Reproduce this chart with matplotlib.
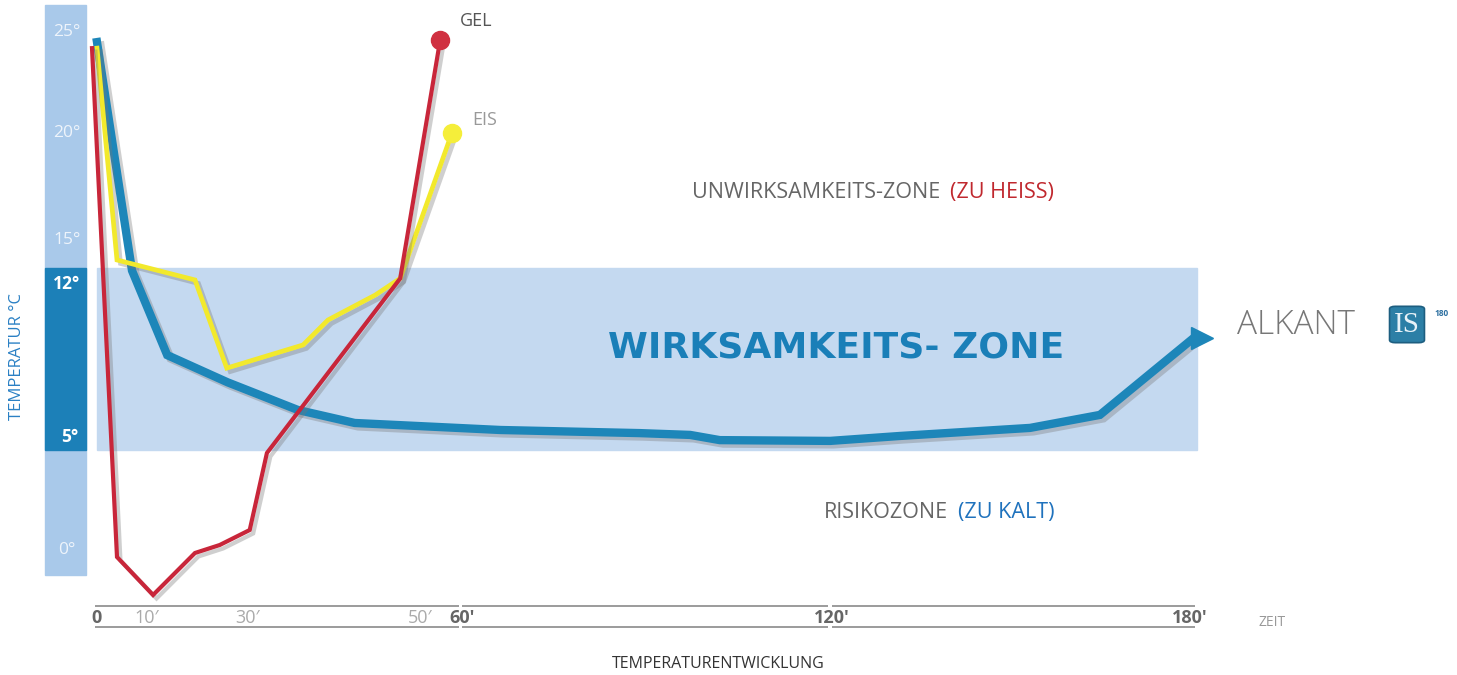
import numpy as np
import matplotlib
matplotlib.use("Agg")
import matplotlib.pyplot as plt
import matplotlib.patheffects as pe
import matplotlib.transforms as mtransforms
from matplotlib.patches import Rectangle, FancyBboxPatch

# temperature curves (minutes, degC)
blue_t = [0, 7.0, 14.0, 26.0, 35.8, 42.4, 66.2, 88.8, 97.0, 101.8, 119.7, 131.4, 153.2, 164.9, 180.3]
blue_v = [24.5, 11.9, 8.65, 7.6, 6.54, 6.04, 5.77, 5.65, 5.58, 5.38, 5.35, 5.54, 5.85, 6.35, 9.25]
arrow_t = [182.0]
arrow_v = [9.3]

gel_t = [-1.0, 4.0, 11.2, 19.5, 24.4, 30.2, 32.2, 47.7, 54.8]
gel_v = [24.2, -0.35, -2.25, -0.15, 0.25, 1.0, 4.85, 11.6, 24.6]

eis_t = [0, 4.0, 19.5, 25.8, 36.4, 39.3, 44.8, 47.7, 57.6]
eis_v = [24.2, 12.86, 11.54, 8.15, 9.04, 10.0, 10.96, 11.6, 20.0]

zone_low, zone_high = 5, 12
y_ticks = [25, 20, 15, 0]
x_ticks_minor = [10, 30, 50]
x_ticks_major = [0, 60, 120, 180]

# the drawing is not to scale, so the axes use piecewise scales
W, H = 1457, 675
xk_min = [-100, 0, 10, 30, 50, 60, 120, 180, 400]
xk_px = [97 - 500, 97, 147, 248, 420, 462, 832, 1190, 1190 + 220 * 5.97]
yk_deg = [-10, 0, 5, 12, 15, 20, 25, 35]
yk_px = [750, 550, 450, 268, 240, 133, 32, 32 - 202]


def fx(m):
    return np.interp(m, xk_min, xk_px)


def fx_inv(p):
    return np.interp(p, xk_px, xk_min)


def fy(d):
    return -np.interp(d, yk_deg, yk_px)


def fy_inv(v):
    return np.interp(-np.asarray(v), yk_px[::-1], yk_deg[::-1])


fig = plt.figure(figsize=(W / 100, H / 100), dpi=100)
ax = fig.add_axes([0, 0, 1, 1])
ax.set_xscale("function", functions=(fx, fx_inv))
ax.set_yscale("function", functions=(fy, fy_inv))
ax.set_xlim(fx_inv(0), fx_inv(W))
ax.set_ylim(fy_inv(-H), fy_inv(0))
ax.axis("off")

FONT = "Open Sans"
blue = "#1d86b9"
red = "#c8263a"
yellow = "#f2e92c"

# zones
ax.axhspan(zone_low, zone_high, xmin=97 / W, xmax=1197 / W, color="#c4d9f0", zorder=0)
ax.add_patch(Rectangle((45 / W, 1 - 575 / H), 41 / W, 570 / H, transform=ax.transAxes,
                       color="#a9c9ea", zorder=0))
blend = mtransforms.blended_transform_factory(ax.transAxes, ax.transData)
ax.add_patch(Rectangle((45 / W, zone_low), 41 / W, zone_high - zone_low, transform=blend,
                       color="#1c80b8", zorder=1))

# y labels on the bar
for v in y_ticks:
    ax.text(67 / W, v, f"{v}°", transform=blend, ha="center", va="center",
            fontsize=12.5, color="#eef4fb", family=FONT)
ax.annotate(f"{zone_high}°", (67 / W, zone_high), xycoords=blend, xytext=(0, -5),
            textcoords="offset points", ha="center", va="top", fontsize=12.5,
            color="white", weight="bold", family=FONT)
ax.annotate(f"{zone_low}°", (70 / W, zone_low), xycoords=blend, xytext=(0, 3),
            textcoords="offset points", ha="center", va="bottom", fontsize=12.5,
            color="white", weight="bold", family=FONT)
ax.text(17 / W, 1 - 356 / H, "TEMPERATUR °C", transform=ax.transAxes, rotation=90,
        ha="center", va="center", fontsize=12, color="#2a80c4", family=FONT)

# curves
shadow = [pe.SimpleLineShadow(offset=(2.5, -2.5), shadow_color="#777777", alpha=0.35),
          pe.Normal()]
ax.plot(blue_t, blue_v, color=blue, lw=6, solid_joinstyle="miter", zorder=3,
        path_effects=shadow)
ax.plot(arrow_t, arrow_v, marker=">", ms=16, color=blue, mec=blue, zorder=3)
ax.plot(eis_t, eis_v, color=yellow, lw=3.4, solid_joinstyle="miter", zorder=4,
        path_effects=shadow)
ax.plot(gel_t, gel_v, color=red, lw=3, solid_joinstyle="miter", zorder=5,
        path_effects=shadow)
ax.plot(gel_t[-1:], gel_v[-1:], "o", ms=13, color="#d03040", zorder=6)
ax.plot(eis_t[-1:], eis_v[-1:], "o", ms=13, color="#f5ee3a", zorder=6)

ax.annotate("GEL", (gel_t[-1], gel_v[-1]), xytext=(14.5, 13.7), textcoords="offset points",
            ha="left", va="center", fontsize=13, color="#555555", family=FONT)
ax.annotate("EIS", (eis_t[-1], eis_v[-1]), xytext=(14.5, 9.4), textcoords="offset points",
            ha="left", va="center", fontsize=13, color="#999999", family=FONT)

# zone texts
ax.text(940 / W, 1 - 198 / H, "UNWIRKSAMKEITS-ZONE", transform=ax.transAxes, ha="right",
        va="baseline", fontsize=15.5, color="#666666", family=FONT)
ax.text(950 / W, 1 - 198 / H, "(ZU HEISS)", transform=ax.transAxes, ha="left",
        va="baseline", fontsize=15.5, color="#c0282e", family=FONT)
ax.text(948 / W, 1 - 518 / H, "RISIKOZONE", transform=ax.transAxes, ha="right",
        va="baseline", fontsize=15.5, color="#666666", family=FONT)
ax.text(958 / W, 1 - 518 / H, "(ZU KALT)", transform=ax.transAxes, ha="left",
        va="baseline", fontsize=15.5, color="#1f72bd", family=FONT)
ax.text(836 / W, 1 - 348 / H, "WIRKSAMKEITS- ZONE", transform=ax.transAxes, ha="center",
        va="center", fontsize=26, color="#1a7fb8", family="DejaVu Sans", weight="bold")

# logo
ax.text(1296 / W, 1 - 325 / H, "ALKANT", transform=ax.transAxes, ha="center", va="center",
        fontsize=24, color="#777777", family=FONT, weight="light")
ax.add_patch(FancyBboxPatch((1391 / W, 1 - 342 / H), 32 / W, 35 / H, transform=ax.transAxes,
                            boxstyle="round,pad=0.001,rounding_size=0.004",
                            fc="#2c7fa6", ec="#1d5e80", lw=1.2, zorder=3))
ax.text(1407 / W, 1 - 325 / H, "IS", transform=ax.transAxes, ha="center", va="center",
        fontsize=21, color="#e8f2f8", family="Liberation Serif", zorder=4)
ax.text(1442 / W, 1 - 313 / H, "180", transform=ax.transAxes, ha="center", va="center",
        fontsize=6, color="#2c6fa0", weight="bold", family=FONT)

# time axis
xb = mtransforms.blended_transform_factory(ax.transData, ax.transAxes)
for a, b in [(-0.4, 59.2), (60.0, 119.4), (120.0, 180.8)]:
    for yy in (606, 627):
        ax.plot([a, b], [1 - yy / H] * 2, transform=xb, color="#8a8a8a", lw=1.2,
                solid_capstyle="butt")
for t in x_ticks_major:
    lab = "0" if t == 0 else f"{t}\u2032"
    ax.text(t, 1 - 618 / H, lab, transform=xb, ha="center", va="center", fontsize=13,
            color="#666666", weight="bold", family=FONT)
for t in x_ticks_minor:
    ax.text(t, 1 - 618 / H, f"{t}\u2032", transform=xb, ha="center", va="center",
            fontsize=13, color="#aaaaaa", family=FONT)
ax.text(1272 / W, 1 - 623 / H, "ZEIT", transform=ax.transAxes, ha="center", va="center",
        fontsize=10, color="#999999", family=FONT)
ax.text(718 / W, 1 - 664 / H, "TEMPERATURENTWICKLUNG", transform=ax.transAxes, ha="center",
        va="center", fontsize=11.5, color="#333333", family=FONT)

fig.savefig("out.png", dpi=100)
